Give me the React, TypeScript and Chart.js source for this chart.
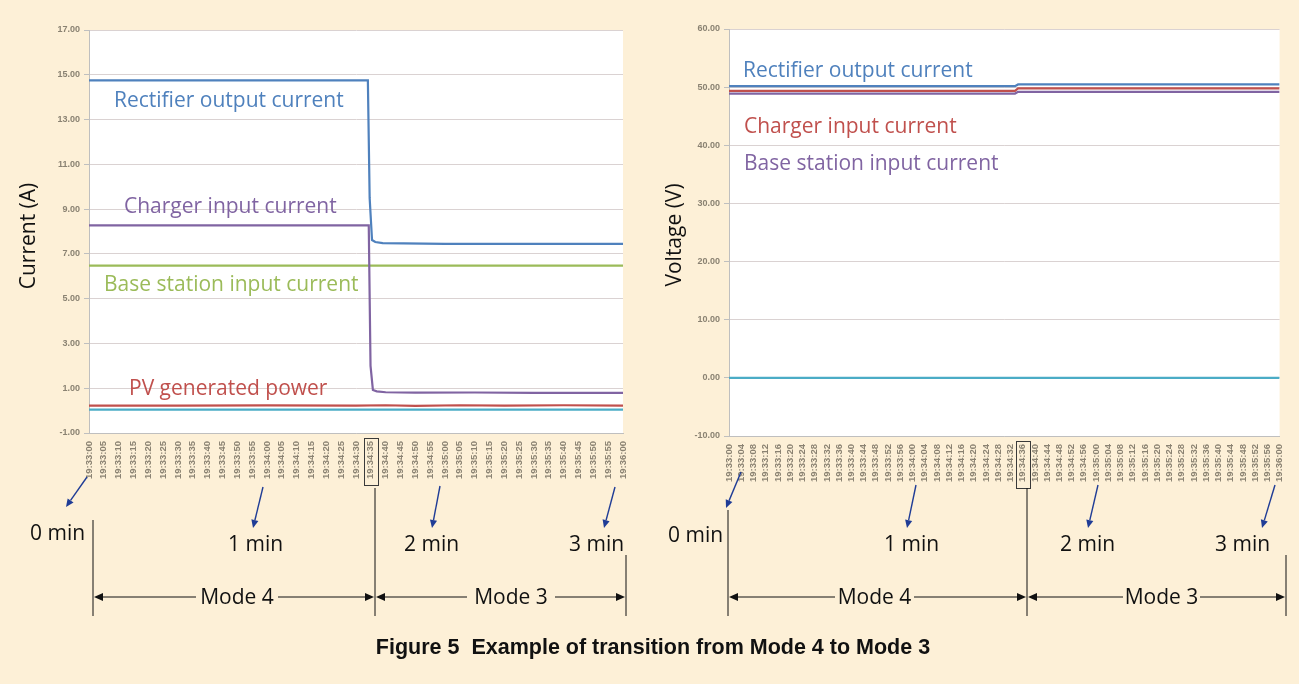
import React, { useEffect, useRef } from "react";
import { Chart, registerables } from "chart.js";
Chart.register(...registerables);

// ---------- DATA ----------
const leftTickLabels = [
  "19:33:00","19:33:05","19:33:10","19:33:15","19:33:20","19:33:25","19:33:30","19:33:35","19:33:40","19:33:45","19:33:50","19:33:55",
  "19:34:00","19:34:05","19:34:10","19:34:15","19:34:20","19:34:25","19:34:30","19:34:35","19:34:40","19:34:45","19:34:50","19:34:55",
  "19:35:00","19:35:05","19:35:10","19:35:15","19:35:20","19:35:25","19:35:30","19:35:35","19:35:40","19:35:45","19:35:50","19:35:55",
  "19:36:00",
];
const rightTickLabels = [
  "19:33:00","19:33:04","19:33:08","19:33:12","19:33:16","19:33:20","19:33:24","19:33:28","19:33:32","19:33:36","19:33:40","19:33:44","19:33:48","19:33:52","19:33:56",
  "19:34:00","19:34:04","19:34:08","19:34:12","19:34:16","19:34:20","19:34:24","19:34:28","19:34:32","19:34:36","19:34:40","19:34:44","19:34:48","19:34:52","19:34:56",
  "19:35:00","19:35:04","19:35:08","19:35:12","19:35:16","19:35:20","19:35:24","19:35:28","19:35:32","19:35:36","19:35:40","19:35:44","19:35:48","19:35:52","19:35:56",
  "19:36:00",
];
const leftBoxedLabel = "19:34:35";
const rightBoxedLabel = "19:34:36";

// left chart: current (A); x = seconds after 19:33:00
const lRectT = [0, 94, 94.6, 95.4, 96.5, 99, 120, 180];
const lRectV = [14.75, 14.75, 9.5, 7.62, 7.53, 7.48, 7.45, 7.45];
const lChargerT = [0, 94.3, 94.9, 95.7, 97, 100, 110, 130, 150, 180];
const lChargerV = [8.27, 8.27, 2.0, 0.92, 0.86, 0.82, 0.8, 0.81, 0.79, 0.79];
const lBaseT = [0, 180];
const lBaseV = [6.48, 6.48];
const lPvT = [0, 30, 60, 90, 100, 110, 125, 140, 160, 180];
const lPvV = [0.22, 0.22, 0.23, 0.22, 0.24, 0.21, 0.24, 0.22, 0.24, 0.22];
const lZeroT = [0, 180];
const lZeroV = [0.04, 0.04];

// right chart: voltage (V)
const rRectT = [0, 93.5, 94.5, 180];
const rRectV = [50.17, 50.17, 50.46, 50.46];
const rChargerT = [0, 93.5, 94.5, 180];
const rChargerV = [49.36, 49.36, 49.78, 49.78];
const rBaseT = [0, 93.5, 94.5, 180];
const rBaseV = [48.9, 48.9, 49.19, 49.19];
const rZeroT = [0, 180];
const rZeroV = [0, 0];

const BLUE = "#4F81BD";
const RED = "#C0504D";
const GREEN = "#9BBB59";
const PURPLE = "#8064A2";
const AQUA = "#4BACC6";
const CREAM = "#FDF0D7";
const ARROW = "#1F3C96";
const TXT_FONT = "'Open Sans', 'Noto Sans', sans-serif";
const FS = 21;

const toSec = (l: string) => {
  const [h, m, s] = l.split(":").map(Number);
  return h * 3600 + m * 60 + s - (19 * 3600 + 33 * 60);
};
const pts = (t: number[], v: number[]) => t.map((x, i) => ({ x, y: v[i] }));

const bgPlugin = {
  id: "plotbg",
  beforeDraw(chart: any) {
    const { ctx, chartArea: a } = chart;
    ctx.save();
    ctx.fillStyle = "#FFFFFF";
    ctx.fillRect(a.left, a.top, a.right - a.left, a.bottom - a.top);
    ctx.restore();
  },
  afterDraw(chart: any) {
    const box = chart.options.plugins.plotbg?.boxValue;
    if (box === undefined) return;
    const { ctx, chartArea: a } = chart;
    const x = chart.scales.x.getPixelForValue(box);
    ctx.save();
    ctx.strokeStyle = "#3a3a3a";
    ctx.lineWidth = 1;
    ctx.strokeRect(Math.round(x - 7) + 0.5, a.bottom + 5.5, 14, 47);
    ctx.restore();
  },
};

function makeConfig(opts: {
  datasets: any[];
  labels: string[];
  yMin: number;
  yMax: number;
  yStep: number;
  yWidth: number;
  xHeight: number;
  padRight: number;
  padTop: number;
  box: string;
}) {
  const tickVals = opts.labels.map(toSec);
  return {
    type: "line",
    data: { datasets: opts.datasets },
    plugins: [bgPlugin],
    options: {
      animation: false,
      responsive: false,
      devicePixelRatio: 1,
      layout: { padding: { left: 0, right: opts.padRight, top: opts.padTop, bottom: 0 } },
      plugins: {
        legend: { display: false },
        tooltip: { enabled: false },
        plotbg: { boxValue: toSec(opts.box) },
      },
      elements: { point: { radius: 0 }, line: { tension: 0, borderWidth: 2.2 } },
      scales: {
        x: {
          type: "linear",
          min: 0,
          max: 180,
          afterBuildTicks: (s: any) => {
            s.ticks = tickVals.map((v) => ({ value: v }));
          },
          afterFit: (s: any) => {
            s.height = opts.xHeight;
          },
          ticks: {
            autoSkip: false,
            maxRotation: 90,
            minRotation: 90,
            padding: 8,
            color: "#8A8272",
            font: { family: "'Liberation Sans', Arial, sans-serif", size: 9.5, weight: "bold" },
            callback: (v: number) => {
              const i = tickVals.indexOf(v);
              return i >= 0 ? opts.labels[i] : "";
            },
          },
          grid: { display: true, drawOnChartArea: false, drawTicks: false },
          border: { display: true, color: "#BFBFBF", width: 1 },
        },
        y: {
          min: opts.yMin,
          max: opts.yMax,
          afterFit: (s: any) => {
            s.width = opts.yWidth;
          },
          ticks: {
            stepSize: opts.yStep,
            padding: 4,
            color: "#8A8272",
            font: { family: "'Liberation Sans', Arial, sans-serif", size: 9, weight: "bold" },
            callback: (v: number) => v.toFixed(2),
          },
          grid: { color: "#DAD2D2", lineWidth: 1, tickLength: 5, tickColor: "#BFBFBF" },
          border: { display: true, color: "#BFBFBF", width: 1 },
        },
      },
    },
  } as any;
}

const ds = (t: number[], v: number[], color: string, w = 2.2) => ({
  data: pts(t, v),
  borderColor: color,
  backgroundColor: color,
  borderWidth: w,
  fill: false,
});

function ChartCanvas({ config, left, width, height }: any) {
  const ref = useRef<HTMLCanvasElement>(null);
  useEffect(() => {
    const c = new Chart(ref.current as HTMLCanvasElement, config);
    return () => c.destroy();
  }, []);
  return (
    <canvas
      ref={ref}
      width={width}
      height={height}
      style={{ position: "absolute", left, top: 0, width, height }}
    />
  );
}

function Arrow({ x1, y1, x2, y2, color = ARROW, head = 8, w = 1.4 }: any) {
  const a = Math.atan2(y2 - y1, x2 - x1);
  const hw = head * 0.45;
  const bx = x2 - head * Math.cos(a);
  const by = y2 - head * Math.sin(a);
  const p1 = `${x2},${y2}`;
  const p2 = `${bx + hw * Math.sin(a)},${by - hw * Math.cos(a)}`;
  const p3 = `${bx - hw * Math.sin(a)},${by + hw * Math.cos(a)}`;
  return (
    <g>
      <line x1={x1} y1={y1} x2={bx} y2={by} stroke={color} strokeWidth={w} />
      <polygon points={`${p1} ${p2} ${p3}`} fill={color} />
    </g>
  );
}

function Dim({ x1, x2, y, label, gapL, gapR }: any) {
  return (
    <g>
      <Arrow x1={gapL} y1={y} x2={x1} y2={y} color="#111" head={9} w={1} />
      <Arrow x1={gapR} y1={y} x2={x2} y2={y} color="#111" head={9} w={1} />
      <text x={(gapL + gapR) / 2} y={y + 7} textAnchor="middle" fontSize={FS} fill="#111" fontFamily={TXT_FONT}>
        {label}
      </text>
    </g>
  );
}

export default function App() {
  const leftConfig = makeConfig({
    datasets: [
      ds(lRectT, lRectV, BLUE),
      ds(lChargerT, lChargerV, PURPLE),
      ds(lBaseT, lBaseV, GREEN),
      ds(lPvT, lPvV, RED),
      ds(lZeroT, lZeroV, AQUA),
    ],
    labels: leftTickLabels,
    yMin: -1,
    yMax: 17,
    yStep: 2,
    yWidth: 89,
    xHeight: 67,
    padRight: 22,
    padTop: 30,
    box: leftBoxedLabel,
  });
  const rightConfig = makeConfig({
    datasets: [
      ds(rRectT, rRectV, BLUE),
      ds(rChargerT, rChargerV, RED),
      ds(rBaseT, rBaseV, PURPLE),
      ds(rZeroT, rZeroV, AQUA),
    ],
    labels: rightTickLabels,
    yMin: -10,
    yMax: 60,
    yStep: 10,
    yWidth: 84,
    xHeight: 64,
    padRight: 16,
    padTop: 29,
    box: rightBoxedLabel,
  });

  const T = (x: number, y: number, s: string, color: string, size = FS) => (
    <text x={x} y={y} fontSize={size} fill={color} fontFamily={TXT_FONT}>
      {s}
    </text>
  );

  return (
    <div
      style={{
        position: "fixed",
        left: 0,
        top: 0,
        width: 1299,
        height: 684,
        background: CREAM,
        overflow: "hidden",
      }}
    >
      <ChartCanvas config={leftConfig} left={0} width={645} height={500} />
      <ChartCanvas config={rightConfig} left={645} width={654} height={500} />
      <svg
        width={1299}
        height={684}
        style={{ position: "absolute", left: 0, top: 0, pointerEvents: "none" }}
      >
        {/* axis titles */}
        <text x={0} y={0} transform="translate(35,236) rotate(-90)" textAnchor="middle" fontSize={FS} fill="#111" fontFamily={TXT_FONT}>
          Current (A)
        </text>
        <text x={0} y={0} transform="translate(681,235) rotate(-90)" textAnchor="middle" fontSize={FS} fill="#111" fontFamily={TXT_FONT}>
          Voltage (V)
        </text>

        {/* series labels left */}
        {T(114, 107, "Rectifier output current", BLUE)}
        {T(124, 213, "Charger input current", PURPLE)}
        {T(104, 291, "Base station input current", GREEN)}
        {T(129, 395, "PV generated power", RED)}
        {/* series labels right */}
        {T(743, 77, "Rectifier output current", BLUE)}
        {T(744, 133, "Charger input current", RED)}
        {T(744, 170, "Base station input current", PURPLE)}

        {/* minute markers */}
        {T(30, 540, "0 min", "#111")}
        {T(228, 551, "1 min", "#111")}
        {T(404, 551, "2 min", "#111")}
        {T(569, 551, "3 min", "#111")}
        {T(668, 542, "0 min", "#111")}
        {T(884, 551, "1 min", "#111")}
        {T(1060, 551, "2 min", "#111")}
        {T(1215, 551, "3 min", "#111")}

        <Arrow x1={87} y1={477} x2={66} y2={507} />
        <Arrow x1={263} y1={487} x2={253} y2={528} />
        <Arrow x1={440} y1={486} x2={432} y2={528} />
        <Arrow x1={615} y1={487} x2={604} y2={528} />
        <Arrow x1={741} y1={472} x2={726} y2={508} />
        <Arrow x1={916} y1={485} x2={907} y2={528} />
        <Arrow x1={1098} y1={485} x2={1088} y2={528} />
        <Arrow x1={1275} y1={485} x2={1262} y2={528} />

        {/* mode boundaries */}
        <line x1={93} y1={520} x2={93} y2={616} stroke="#111" strokeWidth={1} />
        <line x1={375} y1={488} x2={375} y2={616} stroke="#111" strokeWidth={1} />
        <line x1={626} y1={555} x2={626} y2={616} stroke="#111" strokeWidth={1} />
        <line x1={728} y1={510} x2={728} y2={616} stroke="#111" strokeWidth={1} />
        <line x1={1027} y1={488} x2={1027} y2={616} stroke="#111" strokeWidth={1} />
        <line x1={1286} y1={555} x2={1286} y2={616} stroke="#111" strokeWidth={1} />

        <Dim x1={94} x2={374} y={597} label="Mode 4" gapL={196} gapR={278} />
        <Dim x1={376} x2={625} y={597} label="Mode 3" gapL={467} gapR={555} />
        <Dim x1={729} x2={1026} y={597} label="Mode 4" gapL={835} gapR={914} />
        <Dim x1={1028} x2={1285} y={597} label="Mode 3" gapL={1123} gapR={1200} />

        <text
          x={653}
          y={654}
          textAnchor="middle"
          fontSize={21.5}
          fontWeight="bold"
          fill="#111"
          fontFamily="'Liberation Sans', Arial, sans-serif"
        >
          {"Figure 5\u00A0\u00A0Example of transition from Mode 4 to Mode 3"}
        </text>
      </svg>
    </div>
  );
}
